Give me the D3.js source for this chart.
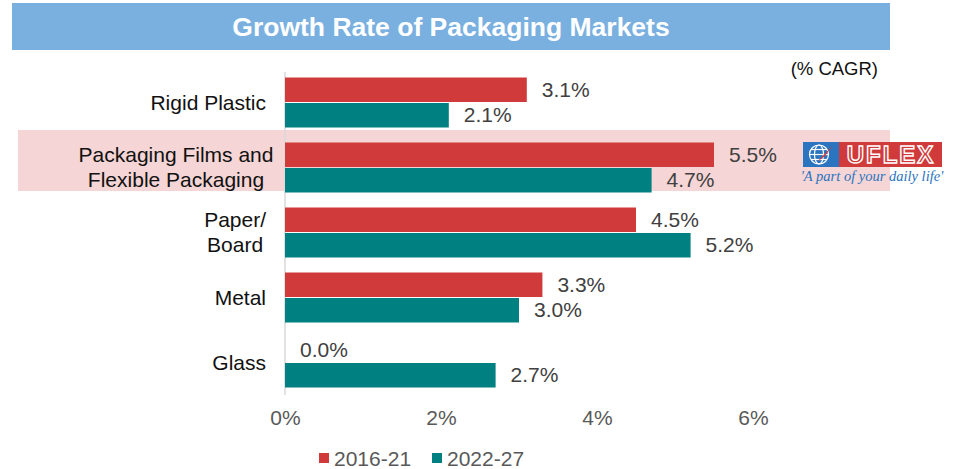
<!DOCTYPE html>
<html><head><meta charset="utf-8">
<script src="https://cdn.jsdelivr.net/npm/d3@7"></script>
<style>body{margin:0;background:#fff}svg{display:block}</style>
</head><body><svg id="c" width="957" height="469"></svg>
<script>
const categories = [["Rigid Plastic"], ["Packaging Films and", "Flexible Packaging"], ["Paper/", "Board"], ["Metal"], ["Glass"]];
const seriesNames = ["2016-21", "2022-27"];
const values2016 = [3.1, 5.5, 4.5, 3.3, 0.0];
const values2022 = [2.1, 4.7, 5.2, 3.0, 2.7];
const tickValues = [0, 2, 4, 6];
const colors = ["#d13a3a", "#008080"];

const svg = d3.select("#c");
const font = "Liberation Sans, Arial, sans-serif";

// title banner
svg.append("rect").attr("x", 12).attr("y", 3).attr("width", 878).attr("height", 47).attr("fill", "#7ab0e0");
svg.append("text").attr("x", 451).attr("y", 36).attr("text-anchor", "middle")
  .attr("font-family", font).attr("font-weight", "bold").attr("font-size", 26.5).attr("fill", "#fff")
  .text("Growth Rate of Packaging Markets");
svg.append("text").attr("x", 878).attr("y", 75).attr("text-anchor", "end")
  .attr("font-family", font).attr("font-size", 18.5).attr("fill", "#111").text("(% CAGR)");

const x = d3.scaleLinear().domain([0, 6]).range([285, 753]);
const y = d3.scaleBand().domain(d3.range(categories.length)).range([70, 395]);
const inner = d3.scaleBand().domain([0, 1]).range([0, 50]);

// highlight
svg.append("rect").attr("x", 18).attr("y", y(1) - 5).attr("width", 872).attr("height", 61).attr("fill", "#f5d5d5");

// axis line
svg.append("line").attr("x1", x(0)).attr("x2", x(0)).attr("y1", 72).attr("y2", 395)
  .attr("stroke", "#d9d9d9").attr("stroke-width", 1.5);

const series = [values2016, values2022];
series.forEach((vals, si) => {
  const g = svg.append("g");
  vals.forEach((v, i) => {
    const by = y(i) + (y.bandwidth() - 50) / 2 + inner(si);
    g.append("rect").attr("x", x(0)).attr("y", by + (si === 0 ? 0 : 0.5))
      .attr("width", x(v) - x(0)).attr("height", inner.bandwidth() - 0.5).attr("fill", colors[si]);
    g.append("text").attr("x", x(v) + 15).attr("y", by + inner.bandwidth() / 2 + 7)
      .attr("font-family", font).attr("font-size", 21).attr("fill", "#404040")
      .text(v.toFixed(1) + "%");
  });
});

// category labels (multi-line labels are centred in a label box that may overflow)
const labelRight = 266, labelBox = 180;
categories.forEach((lines, i) => {
  const cy = y(i) + y.bandwidth() / 2;
  const t = svg.append("text").attr("font-family", font).attr("font-size", 21).attr("fill", "#111");
  const spans = lines.map((l, k) =>
    t.append("tspan").attr("y", cy + 7 + (k - (lines.length - 1) / 2) * 25).text(l));
  if (lines.length === 1) {
    t.attr("text-anchor", "end");
    spans[0].attr("x", labelRight);
  } else {
    const maxW = d3.max(spans, s => s.node().getComputedTextLength());
    const c = labelRight - Math.min(maxW, labelBox) / 2;
    t.attr("text-anchor", "middle");
    spans.forEach(s => s.attr("x", c));
  }
});

// x axis ticks
const ax = svg.append("g").attr("transform", "translate(0,395)")
  .call(d3.axisBottom(x).tickValues(tickValues).tickFormat(d => d + "%").tickSize(0).tickPadding(15));
ax.select(".domain").remove();
ax.selectAll("text").attr("font-family", font).attr("font-size", 21).attr("fill", "#595959");

// legend
const lg = svg.append("g").attr("transform", "translate(319,453)");
seriesNames.forEach((n, i) => {
  const gx = i * 113;
  lg.append("rect").attr("x", gx).attr("y", 0).attr("width", 10).attr("height", 10).attr("fill", colors[i]);
  lg.append("text").attr("x", gx + 15).attr("y", 13).attr("font-family", font).attr("font-size", 21)
    .attr("fill", "#595959").text(n);
});

// logo
const logo = svg.append("g").attr("transform", "translate(803,142)");
logo.append("rect").attr("x", 0).attr("y", 0).attr("width", 36).attr("height", 25).attr("fill", "#2a74c0");
logo.append("rect").attr("x", 36).attr("y", 0).attr("width", 103).attr("height", 25).attr("fill", "#d13a3a");
const gl = logo.append("g").attr("fill", "none").attr("stroke", "#fff").attr("stroke-width", 1.2);
gl.append("circle").attr("cx", 16).attr("cy", 12.5).attr("r", 9.5);
gl.append("ellipse").attr("cx", 16).attr("cy", 12.5).attr("rx", 4.5).attr("ry", 9.5);
gl.append("line").attr("x1", 6.5).attr("x2", 25.5).attr("y1", 12.5).attr("y2", 12.5);
gl.append("line").attr("x1", 8).attr("x2", 24).attr("y1", 7.5).attr("y2", 7.5);
gl.append("line").attr("x1", 8).attr("x2", 24).attr("y1", 17.5).attr("y2", 17.5);
logo.append("path").attr("d", "M14,20 L30,3 L22,14 Z").attr("fill", "#d13a3a");
logo.append("text").attr("x", 88).attr("y", 21).attr("text-anchor", "middle")
  .attr("font-family", font).attr("font-weight", "bold").attr("font-size", 24)
  .attr("fill", "none").attr("stroke", "#fff").attr("stroke-width", 1.4).attr("letter-spacing", 2).text("UFLEX");
logo.append("text").attr("x", 69).attr("y", 39).attr("text-anchor", "middle")
  .attr("font-family", "Liberation Serif, serif").attr("font-style", "italic").attr("font-size", 14.5)
  .attr("fill", "#2a74c0").text("'A part of your daily life'");
</script></body></html>
